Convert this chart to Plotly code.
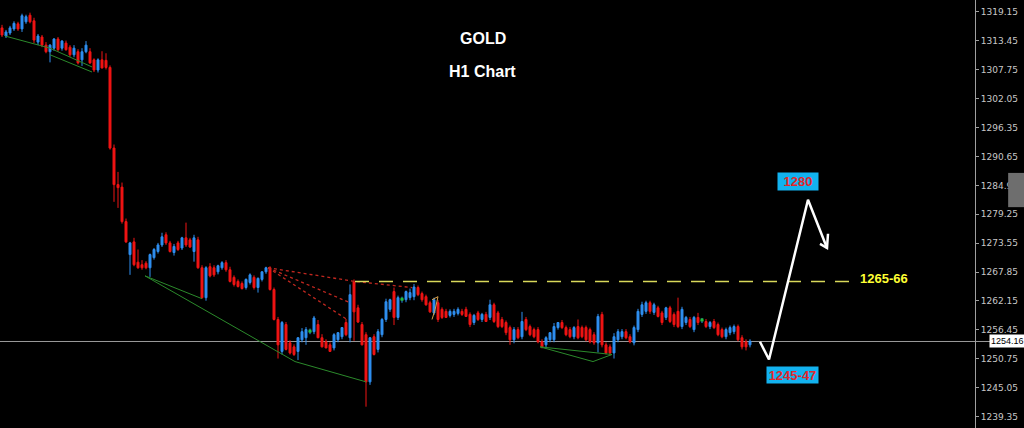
import plotly.graph_objects as go

# ---------------- data (H1 candles) ----------------
opens = [
    1316.0, 1314.4, 1315.0, 1315.8, 1316.8, 1315.8, 1317.2, 1318.5, 1317.4, 1313.2,
    1314.2, 1312.6, 1311.3, 1312.0, 1313.8, 1312.0, 1313.0, 1312.2, 1310.7, 1311.3,
    1309.7, 1311.3, 1311.3, 1309.7, 1307.7, 1309.7, 1309.6, 1308.2, 1292.3, 1285.1,
    1284.6, 1277.8, 1271.3, 1273.8, 1269.8, 1269.3, 1269.6, 1268.7, 1270.7, 1271.9,
    1273.2, 1275.2, 1273.6, 1271.7, 1273.6, 1272.6, 1274.6, 1274.2, 1271.9, 1274.2,
    1268.7, 1262.8, 1268.9, 1268.7, 1267.9, 1268.7, 1269.7, 1268.3, 1266.8, 1266.0,
    1265.6, 1264.8, 1265.8, 1266.8, 1264.8, 1266.4, 1267.9, 1268.7, 1264.4, 1258.5,
    1252.2, 1257.5, 1253.9, 1253.1, 1252.2, 1254.5, 1254.9, 1256.1, 1256.1, 1257.5,
    1254.9, 1254.1, 1253.5, 1252.9, 1254.5, 1255.1, 1257.9, 1254.9, 1265.9, 1260.8,
    1257.5, 1255.5, 1246.2, 1255.1, 1252.6, 1255.5, 1258.5, 1260.5, 1264.0, 1258.9,
    1262.4, 1262.4, 1262.8, 1263.0, 1264.8, 1263.6, 1263.0, 1261.8, 1259.8, 1261.8,
    1260.5, 1260.1, 1259.3, 1259.5, 1259.7, 1260.1, 1260.5, 1259.5, 1257.9, 1259.8,
    1258.5, 1259.5, 1258.9, 1261.4, 1259.8, 1258.5, 1257.9, 1256.9, 1254.5, 1256.5,
    1255.1, 1258.5, 1257.1, 1256.5, 1256.5, 1254.1, 1253.5, 1254.5, 1254.5, 1256.9,
    1257.9, 1256.9, 1256.5, 1255.1, 1257.1, 1256.9, 1256.9, 1256.5, 1255.5, 1253.9,
    1259.5, 1253.5, 1253.1, 1251.9, 1254.5, 1255.1, 1256.1, 1255.1, 1253.9, 1256.5,
    1259.5, 1260.1, 1261.8, 1259.9, 1260.8, 1259.8, 1258.9, 1260.8, 1259.5, 1260.1,
    1257.1, 1257.9, 1258.5, 1256.5, 1258.9, 1258.3, 1258.1, 1257.1, 1258.1, 1257.5,
    1256.5, 1255.1, 1255.9, 1256.1, 1257.1, 1254.9, 1254.1, 1253.5,
]
highs = [
    1316.6, 1315.6, 1316.4, 1317.3, 1317.2, 1318.8, 1318.6, 1319.0, 1318.0, 1314.8,
    1314.6, 1313.2, 1312.8, 1314.0, 1314.2, 1313.6, 1313.5, 1312.6, 1312.6, 1311.8,
    1312.0, 1313.4, 1312.0, 1310.0, 1310.0, 1311.4, 1311.0, 1308.6, 1293.0, 1287.6,
    1285.5, 1278.4, 1273.8, 1274.6, 1272.3, 1270.2, 1270.0, 1271.5, 1272.6, 1273.6,
    1275.6, 1275.7, 1274.0, 1273.4, 1274.0, 1274.8, 1277.6, 1274.6, 1275.2, 1274.8,
    1269.2, 1269.0, 1269.6, 1269.2, 1269.3, 1270.0, 1270.2, 1268.9, 1267.2, 1266.4,
    1266.0, 1266.6, 1267.6, 1267.2, 1266.8, 1268.0, 1268.9, 1269.0, 1264.8, 1259.0,
    1258.2, 1258.0, 1254.4, 1253.6, 1255.0, 1256.8, 1257.0, 1256.7, 1259.2, 1258.4,
    1255.6, 1254.6, 1254.0, 1255.8, 1256.0, 1257.0, 1258.6, 1265.4, 1266.4, 1261.4,
    1258.0, 1256.0, 1255.0, 1255.6, 1256.6, 1258.8, 1262.6, 1262.6, 1264.8, 1263.2,
    1263.0, 1264.2, 1264.6, 1265.5, 1265.2, 1264.0, 1263.4, 1262.2, 1262.8, 1262.3,
    1260.9, 1260.6, 1260.5, 1260.6, 1260.9, 1260.6, 1261.0, 1259.9, 1259.6, 1260.2,
    1259.8, 1260.0, 1262.4, 1261.8, 1260.2, 1259.0, 1258.3, 1257.3, 1257.0, 1257.0,
    1260.0, 1259.0, 1257.5, 1256.9, 1257.0, 1254.6, 1255.2, 1256.0, 1257.8, 1258.0,
    1258.4, 1257.3, 1257.0, 1257.2, 1258.5, 1257.3, 1257.3, 1256.9, 1256.0, 1259.6,
    1260.0, 1254.0, 1253.6, 1255.8, 1256.6, 1256.6, 1256.6, 1255.6, 1257.3, 1260.6,
    1262.0, 1262.2, 1262.2, 1261.8, 1261.2, 1260.2, 1261.0, 1261.2, 1259.9, 1262.8,
    1261.0, 1259.2, 1259.0, 1259.2, 1259.8, 1258.8, 1258.6, 1258.2, 1258.6, 1257.9,
    1256.9, 1256.9, 1257.3, 1257.5, 1257.5, 1255.4, 1254.6, 1254.6,
]
lows = [
    1314.2, 1314.0, 1314.6, 1315.4, 1315.4, 1315.2, 1316.8, 1316.9, 1313.0, 1312.6,
    1312.2, 1311.0, 1309.2, 1311.5, 1311.3, 1311.5, 1311.5, 1310.3, 1310.2, 1308.8,
    1308.5, 1311.0, 1308.9, 1307.3, 1307.2, 1308.0, 1307.8, 1292.0, 1281.7, 1280.5,
    1277.4, 1273.6, 1267.3, 1269.0, 1268.5, 1268.3, 1268.4, 1266.9, 1270.3, 1271.5,
    1272.8, 1273.2, 1271.7, 1271.1, 1272.0, 1272.2, 1272.8, 1272.6, 1269.9, 1268.5,
    1262.6, 1262.2, 1266.8, 1266.9, 1267.4, 1268.3, 1267.9, 1265.8, 1265.0, 1264.8,
    1264.4, 1264.4, 1265.4, 1264.4, 1263.8, 1266.0, 1267.5, 1264.2, 1258.3, 1250.8,
    1251.6, 1252.4, 1251.6, 1251.3, 1250.5, 1254.0, 1253.5, 1255.6, 1255.6, 1254.8,
    1253.0, 1252.8, 1252.2, 1252.4, 1254.0, 1254.6, 1255.2, 1254.0, 1254.3, 1257.8,
    1253.4, 1241.3, 1245.6, 1251.4, 1252.0, 1255.0, 1258.0, 1260.0, 1257.4, 1258.4,
    1261.8, 1261.9, 1262.3, 1262.3, 1263.1, 1262.0, 1261.2, 1259.8, 1259.4, 1258.0,
    1258.6, 1258.8, 1258.9, 1259.0, 1259.3, 1259.2, 1259.0, 1257.0, 1257.4, 1258.2,
    1258.0, 1258.0, 1258.4, 1257.8, 1256.8, 1256.8, 1255.4, 1253.5, 1253.8, 1254.6,
    1254.6, 1256.2, 1255.2, 1254.8, 1253.8, 1252.8, 1253.0, 1254.0, 1254.0, 1256.5,
    1256.6, 1255.2, 1254.8, 1254.6, 1254.6, 1254.8, 1254.2, 1253.8, 1253.5, 1252.0,
    1253.0, 1251.6, 1251.4, 1250.8, 1254.0, 1254.6, 1254.6, 1253.8, 1253.4, 1256.0,
    1259.0, 1259.6, 1259.6, 1259.4, 1258.9, 1257.4, 1258.4, 1257.8, 1257.0, 1256.8,
    1256.6, 1257.4, 1256.8, 1256.0, 1257.4, 1257.8, 1256.8, 1256.6, 1256.6, 1255.2,
    1254.8, 1254.6, 1255.4, 1255.6, 1254.2, 1252.6, 1252.4, 1253.0,
]
closes = [
    1314.6, 1315.2, 1316.0, 1316.9, 1315.8, 1318.4, 1318.2, 1317.2, 1313.6, 1314.4,
    1312.6, 1311.3, 1312.6, 1313.8, 1311.7, 1313.4, 1311.7, 1310.7, 1312.0, 1309.1,
    1311.3, 1312.6, 1309.1, 1307.7, 1309.7, 1308.1, 1308.2, 1292.3, 1285.1, 1284.5,
    1277.8, 1273.8, 1273.6, 1269.3, 1268.7, 1268.7, 1268.7, 1271.3, 1272.3, 1273.2,
    1274.8, 1273.6, 1271.9, 1272.9, 1272.3, 1274.6, 1273.2, 1272.8, 1274.6, 1268.7,
    1262.8, 1268.7, 1267.1, 1267.3, 1269.1, 1269.7, 1268.3, 1266.0, 1265.4, 1265.0,
    1264.6, 1266.4, 1267.3, 1264.8, 1266.6, 1267.9, 1268.7, 1264.4, 1258.5, 1253.5,
    1257.9, 1252.6, 1251.9, 1251.6, 1254.9, 1256.1, 1256.5, 1256.2, 1258.8, 1254.9,
    1253.1, 1252.9, 1252.2, 1255.5, 1255.9, 1256.9, 1255.5, 1263.4, 1260.0, 1258.0,
    1253.5, 1246.2, 1254.9, 1251.6, 1256.1, 1258.5, 1262.0, 1262.4, 1258.9, 1262.8,
    1262.5, 1264.0, 1263.8, 1264.9, 1263.4, 1262.4, 1261.4, 1260.0, 1262.4, 1258.5,
    1258.9, 1258.9, 1260.1, 1260.1, 1260.5, 1259.5, 1259.1, 1257.5, 1259.3, 1258.5,
    1259.5, 1258.1, 1261.4, 1258.1, 1257.1, 1257.1, 1255.9, 1254.5, 1256.5, 1254.9,
    1258.1, 1256.5, 1255.5, 1255.1, 1254.1, 1253.1, 1254.9, 1255.9, 1257.1, 1257.9,
    1256.9, 1255.5, 1255.1, 1256.9, 1254.9, 1255.1, 1254.5, 1254.1, 1253.9, 1259.1,
    1253.5, 1251.9, 1251.9, 1255.1, 1256.1, 1256.1, 1254.9, 1254.1, 1256.9, 1260.1,
    1261.4, 1261.8, 1260.1, 1261.4, 1259.1, 1257.9, 1260.8, 1258.1, 1257.5, 1257.1,
    1260.5, 1258.9, 1257.1, 1258.9, 1257.9, 1258.4, 1257.1, 1257.9, 1256.9, 1255.5,
    1255.1, 1256.5, 1256.9, 1257.1, 1254.5, 1253.1, 1253.1, 1254.2,
]
neutral_idx = [77, 100, 175]          # small green (unchanged) candles

current_price = 1254.16
resistance = 1266.0
price_ticks = [1319.15, 1313.45, 1307.75, 1302.05, 1296.35, 1290.65, 1284.95,
               1279.25, 1273.55, 1267.85, 1262.15, 1256.45, 1250.75, 1245.05, 1239.35]

# analysis drawings in (bar index, price)
green_lines = [
    [(0.75, 1314.4), (12, 1312.0), (22.5, 1308.3)],
    [(12, 1310.7), (22.5, 1307.3)],
    [(35.75, 1267.1), (69, 1252.2), (73.25, 1250.2), (91, 1246.2)],
    [(35.75, 1267.1), (50, 1262.6)],
    [(134.5, 1253.1), (152.5, 1251.6)],
    [(134.5, 1253.1), (147.75, 1250.2), (152.5, 1251.6)],
]
red_dotted = [
    [(66.5, 1268.7), (88.25, 1266.0), (102.5, 1264.8)],
    [(66.5, 1268.7), (87, 1261.8)],
    [(66.5, 1268.7), (86.25, 1258.5)],
]
orange_mark = [(107.5, 1262.4), (109, 1263.0), (108.25, 1260.4), (107.5, 1258.5)]
forecast_path = [(189.5, 1254.1), (191.75, 1250.6), (201.5, 1282.1), (206.25, 1272.6)]
arrow_head = [(204.5, 1273.4), (206.25, 1272.6), (206.5, 1275.4)]
resistance_span = (88.25, 213.25)

# ---------------- figure ----------------
RED = "#f01414"
BLUE = "#2f8ff0"
idx = list(range(len(opens)))

fig = go.Figure()
fig.add_trace(go.Candlestick(
    x=idx, open=opens, high=highs, low=lows, close=closes,
    increasing=dict(line=dict(color=BLUE, width=1), fillcolor=BLUE),
    decreasing=dict(line=dict(color=RED, width=1), fillcolor=RED),
    hoverinfo="skip", showlegend=False,
))
fig.add_trace(go.Scatter(
    x=neutral_idx, y=[closes[i] for i in neutral_idx], mode="markers",
    marker=dict(symbol="square", size=3, color="#22c03a", line=dict(width=0)),
    hoverinfo="skip", showlegend=False,
))


def add_poly(points, color, width=1, dash=None):
    fig.add_trace(go.Scatter(
        x=[p[0] for p in points], y=[p[1] for p in points], mode="lines",
        line=dict(color=color, width=width, dash=dash),
        hoverinfo="skip", showlegend=False,
    ))


for pts in green_lines:
    add_poly(pts, "#2b8a2b", 1)
for pts in red_dotted:
    add_poly(pts, "#c0271f", 1.3, "dot")
add_poly(orange_mark, "#d8a04a", 1)

# resistance dashed line
add_poly([(resistance_span[0], resistance), (resistance_span[1], resistance)],
         "#d8d85a", 1.5, "14px,10px")

# forecast arrow
add_poly(forecast_path, "#ffffff", 2.5)
add_poly(arrow_head, "#ffffff", 2.5)

annotations = [
    dict(text="<b>GOLD</b>", x=0.495, y=0.911, xref="paper", yref="paper",
         xanchor="center", yanchor="middle", showarrow=False,
         font=dict(family="Arial", size=16, color="#ffffff")),
    dict(text="<b>H1 Chart</b>", x=0.495, y=0.832, xref="paper", yref="paper",
         xanchor="center", yanchor="middle", showarrow=False,
         font=dict(family="Arial", size=16, color="#ffffff")),
    dict(text="<b>1265-66</b>", x=214.0, y=resistance + 0.5, xref="x", yref="y",
         xanchor="left", yanchor="middle", showarrow=False,
         font=dict(family="Arial", size=13, color="#ffff33")),
    dict(text="<b>1280</b>", x=199.0, y=1285.8, xref="x", yref="y",
         xanchor="center", yanchor="middle",
         showarrow=False, bgcolor="#12b2ef", width=40, height=17, borderpad=0,
         font=dict(family="Arial", size=13, color="#e3262b")),
    dict(text="<b>1245-47</b>", x=197.5, y=1247.6, xref="x", yref="y",
         xanchor="center", yanchor="middle",
         showarrow=False, bgcolor="#12b2ef", width=51, height=16, borderpad=0,
         font=dict(family="Arial", size=13, color="#e3262b")),
    dict(text=f"{current_price:.2f}", x=1, y=current_price, xref="paper", yref="y",
         xanchor="left", yanchor="middle", xshift=14, showarrow=False,
         bgcolor="#ffffff", borderpad=1,
         font=dict(family="Liberation Sans", size=9, color="#000000")),
]

shapes = [
    dict(type="line", xref="paper", yref="y", x0=0, x1=1.016, y0=current_price,
         y1=current_price, line=dict(color="#9a9a9a", width=1), layer="below"),
    dict(type="rect", xref="paper", yref="paper", x0=1.034, x1=1.052,
         y0=0.516, y1=0.596, fillcolor="#6e6e6e", line=dict(width=0), layer="above"),
]

fig.update_layout(
    width=1024, height=428,
    margin=dict(l=0, r=49, t=0, b=0),
    paper_bgcolor="#000000", plot_bgcolor="#000000",
    showlegend=False,
    annotations=annotations, shapes=shapes,
    xaxis=dict(visible=False, range=[-0.5, 243.25], rangeslider=dict(visible=False),
               showgrid=False, zeroline=False),
    yaxis=dict(side="right", range=[1237.1, 1321.5], tickvals=price_ticks,
               ticktext=[f"{v:.2f}" for v in price_ticks],
               tickfont=dict(family="DejaVu Sans", size=9, color="#c8c8c8"),
               ticks="outside", ticklen=3, tickcolor="#a0a0a0",
               showline=True, linecolor="#a0a0a0", linewidth=1,
               showgrid=False, zeroline=False, fixedrange=True,
               automargin=False),
)

fig.write_html(
    "out.html",
    config={"displayModeBar": False},
    post_script="document.body.style.margin='0';document.body.style.overflow='hidden';"
                "document.body.style.background='#000';",
)
